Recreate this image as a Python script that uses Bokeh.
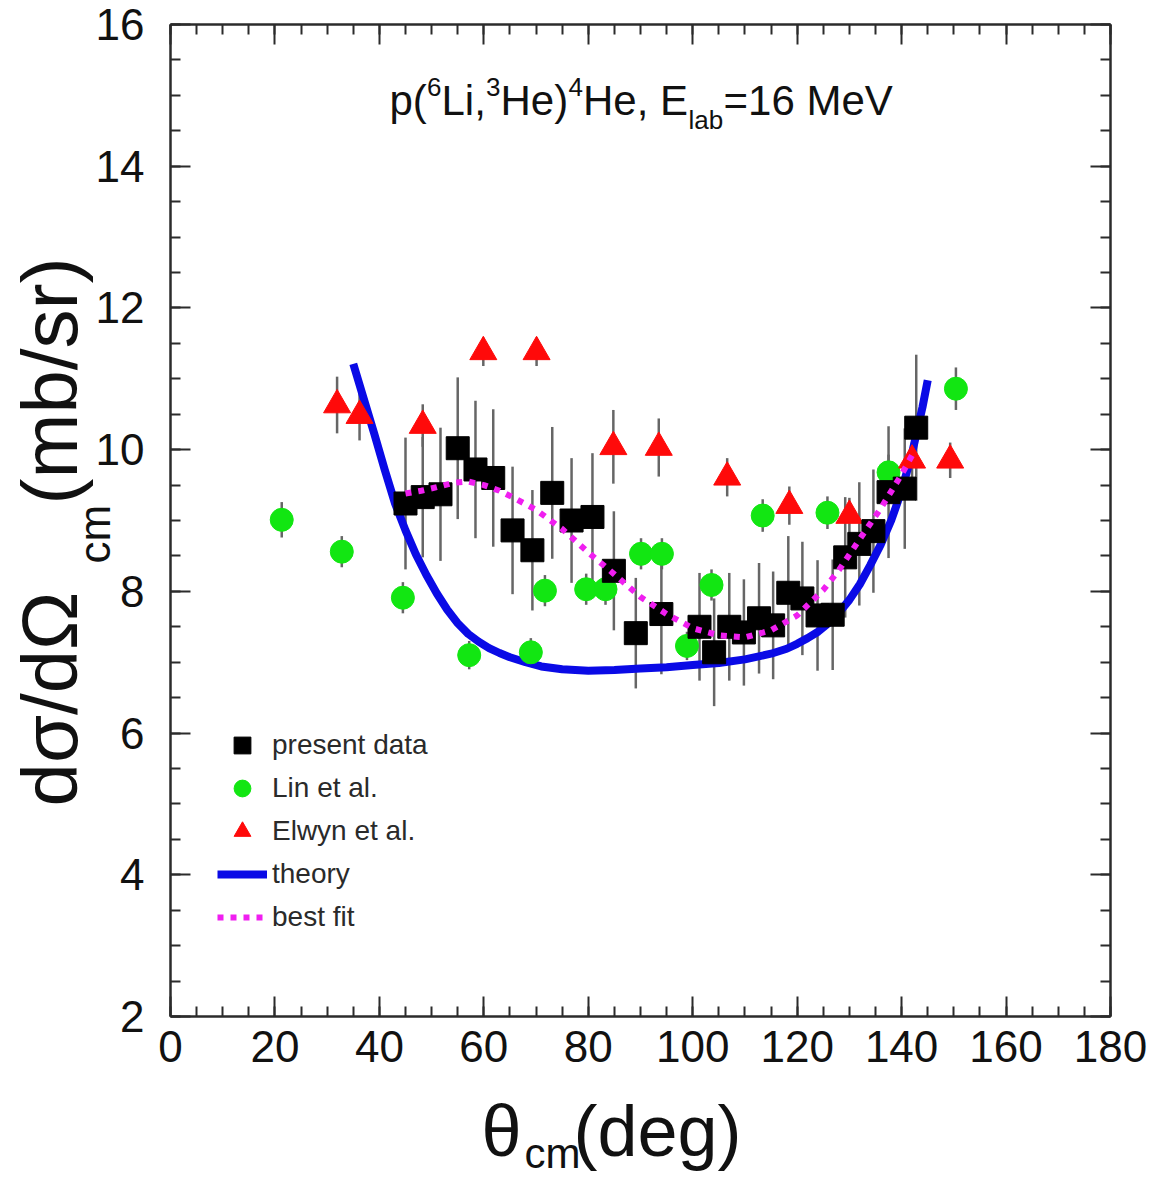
import numpy as np
from bokeh.plotting import figure
from bokeh.models import (Range1d, LinearAxis, SingleIntervalTicker, Label,
                          Legend, LegendItem, ColumnDataSource)
from bokeh.embed import file_html
from bokeh.resources import INLINE

# ---- measured cross sections: p(6Li,3He)4He at E_lab = 16 MeV ----
present_theta = [45.0, 48.3, 51.7, 55.0, 58.4, 61.8, 65.5, 69.3, 73.1, 76.8,
                 80.8, 84.9, 89.1, 94.0, 101.3, 104.1, 107.0, 109.8, 112.7, 115.4,
                 118.3, 121.0, 123.9, 126.8, 129.2, 131.9, 134.6, 137.5, 140.6, 142.8]
present_sigma = [9.24, 9.33, 9.37, 10.02, 9.72, 9.60, 8.86, 8.58, 9.39, 9.00,
                 9.05, 8.29, 7.41, 7.68, 7.50, 7.14, 7.50, 7.42, 7.62, 7.52,
                 7.98, 7.90, 7.66, 7.67, 8.48, 8.67, 8.85, 9.40, 9.45, 10.31]
present_err = [0.93, 0.85, 0.94, 1.00, 0.97, 0.97, 0.90, 0.85, 0.93, 0.88,
               0.90, 0.84, 0.78, 0.85, 0.76, 0.76, 0.76, 0.75, 0.78, 0.76,
               0.80, 0.80, 0.78, 0.78, 0.85, 0.87, 0.87, 0.93, 0.85, 1.03]

lin_theta = [21.3, 32.8, 44.5, 57.2, 69.0, 71.7, 79.6, 83.3, 90.1, 94.1,
             98.9, 103.6, 113.4, 125.8, 137.5, 150.4]
lin_sigma = [9.01, 8.56, 7.91, 7.10, 7.14, 8.01, 8.03, 8.03, 8.53, 8.53,
             7.23, 8.09, 9.07, 9.11, 9.68, 10.86]
lin_err = [0.25, 0.22, 0.22, 0.20, 0.20, 0.22, 0.22, 0.22, 0.22, 0.22,
           0.20, 0.22, 0.23, 0.23, 0.25, 0.30]

elwyn_theta = [31.9, 36.2, 48.3, 59.9, 70.1, 84.8, 93.5, 106.6, 118.5, 130.0, 142.0, 149.3]
elwyn_sigma = [10.63, 10.48, 10.34, 11.38, 11.38, 10.04, 10.03, 9.61, 9.21, 9.07, 9.85, 9.85]
elwyn_err = [0.40, 0.35, 0.30, 0.20, 0.20, 0.52, 0.41, 0.27, 0.27, 0.25, 0.25, 0.25]

# ---- curves ----
theory_theta = [35, 37, 39, 41, 43, 45, 47, 49, 51, 53, 55, 57, 59, 61, 63, 65, 68,
                71, 75, 80, 85, 90, 95, 100, 105, 110, 115, 118, 120, 122, 124,
                126, 128, 130, 132, 134, 136, 138, 140, 142, 144, 145]
theory_sigma = [11.21, 10.72, 10.23, 9.72, 9.24, 8.86, 8.52, 8.23, 7.97, 7.74, 7.55,
                7.40, 7.29, 7.20, 7.13, 7.07, 7.00, 6.94, 6.90, 6.88, 6.89, 6.91,
                6.93, 6.96, 6.99, 7.04, 7.12, 7.19, 7.26, 7.34, 7.43, 7.55, 7.70,
                7.88, 8.10, 8.37, 8.66, 9.00, 9.42, 9.95, 10.60, 10.98]

fit_theta = [45, 48, 51, 54, 57, 60, 63, 66, 70, 75, 80, 85, 90, 95, 100, 105,
             110, 115, 120, 125, 128, 132, 136, 140, 142]
fit_sigma = [9.38, 9.42, 9.47, 9.53, 9.55, 9.50, 9.42, 9.31, 9.15, 8.88, 8.55, 8.24,
             7.92, 7.68, 7.48, 7.38, 7.35, 7.45, 7.66, 8.02, 8.30, 8.74, 9.17, 9.65, 9.92]

X_BOUNDS = (0, 180)
Y_BOUNDS = (2, 16)

# canvas size and where the axis box sits on it (pixels)
W, H = 1157, 1182
BL, BR, BT, BB = 170, 1110, 24, 1016

FONT = "Liberation Sans"
TEXT = "#111111"
AXIS = "#2b2b2b"


def at(px, py):
    """Canvas pixel position -> data coordinates."""
    x = X_BOUNDS[0] + (px - BL) / (BR - BL) * (X_BOUNDS[1] - X_BOUNDS[0])
    y = Y_BOUNDS[1] - (py - BT) / (BB - BT) * (Y_BOUNDS[1] - Y_BOUNDS[0])
    return x, y


def err_source(theta, sigma, err):
    s = np.asarray(sigma, dtype=float)
    e = np.asarray(err, dtype=float)
    return ColumnDataSource(dict(x=list(theta), y=list(s), lo=list(s - e), hi=list(s + e)))


# the frame spans the whole canvas; axes are pinned to the data box so the
# axis titles can live in the same drawing area
x0, y1 = at(0, 0)
x1, y0 = at(W, H)
p = figure(width=W, height=H, x_range=Range1d(x0, x1), y_range=Range1d(y0, y1),
           output_backend="svg", toolbar_location=None,
           x_axis_type=None, y_axis_type=None,
           min_border=0, min_border_left=0, min_border_right=0,
           min_border_top=0, min_border_bottom=0)
p.title.visible = False
p.xgrid.visible = False
p.ygrid.visible = False
p.outline_line_color = None
p.background_fill_color = "white"
p.border_fill_color = "white"


def make_axis(interval, bounds, fixed, show_labels, standoff):
    ax = LinearAxis(ticker=SingleIntervalTicker(interval=interval, num_minor_ticks=4),
                    bounds=bounds, fixed_location=fixed)
    ax.axis_line_color = AXIS
    ax.axis_line_width = 2.5
    ax.major_tick_line_color = AXIS
    ax.major_tick_line_width = 2
    ax.minor_tick_line_color = AXIS
    ax.minor_tick_line_width = 2
    ax.major_tick_in = 20
    ax.major_tick_out = 0
    ax.minor_tick_in = 10
    ax.minor_tick_out = 0
    if show_labels:
        ax.major_label_text_font = FONT
        ax.major_label_text_font_size = "44px"
        ax.major_label_text_color = TEXT
        ax.major_label_standoff = standoff
    else:
        ax.major_label_text_color = None
    return ax


p.add_layout(make_axis(20, X_BOUNDS, Y_BOUNDS[0], True, 14), "below")
p.add_layout(make_axis(2, Y_BOUNDS, X_BOUNDS[0], True, 26), "left")
p.add_layout(make_axis(20, X_BOUNDS, Y_BOUNDS[1], False, 0), "above")
p.add_layout(make_axis(2, Y_BOUNDS, X_BOUNDS[1], False, 0), "right")

src_present = err_source(present_theta, present_sigma, present_err)
src_lin = err_source(lin_theta, lin_sigma, lin_err)
src_elwyn = err_source(elwyn_theta, elwyn_sigma, elwyn_err)

# error bars
for src in (src_lin, src_elwyn, src_present):
    p.segment(x0="x", y0="lo", x1="x", y1="hi", source=src,
              line_color="#666666", line_width=2.5)

r_theory = p.line(theory_theta, theory_sigma, line_color="#0a0ae6", line_width=8,
                  line_join="round")

r_lin = p.scatter("x", "y", source=src_lin, marker="circle", size=23,
                  fill_color="#12e612", line_color="#12e612")
r_elwyn = p.scatter("x", "y", source=src_elwyn, marker="triangle", size=27,
                    fill_color="#ff0a0a", line_color="#ff0a0a")
r_present = p.scatter("x", "y", source=src_present, marker="square", size=23,
                      fill_color="black", line_color="black")

r_fit = p.line(fit_theta, fit_sigma, line_color="#f01ef0", line_width=6,
               line_dash="6 7")

# legend: bottom-left corner given relative to the canvas bottom-left
legend = Legend(items=[
    LegendItem(label="present data", renderers=[r_present]),
    LegendItem(label="Lin et al.", renderers=[r_lin]),
    LegendItem(label="Elwyn et al.", renderers=[r_elwyn]),
    LegendItem(label="theory", renderers=[r_theory]),
    LegendItem(label="best fit", renderers=[r_fit]),
], location=(217, 244), glyph_width=50, glyph_height=42, spacing=1,
    padding=0, margin=0, label_standoff=5,
    label_text_font=FONT, label_text_font_size="28px", label_text_color="#2a2a2a",
    border_line_color=None, background_fill_alpha=0)
p.add_layout(legend)

# Label anchors sit about 0.36 em above the drawn baseline
BASE_SHIFT = 0.36


def put(text, px, py, size, angle=0.0):
    """Place text so that its baseline starts at canvas pixel (px, py)."""
    if angle == 0.0:
        py = py - BASE_SHIFT * size
    else:
        px = px - BASE_SHIFT * size
    x, y = at(px, py)
    p.add_layout(Label(x=x, y=y, text=text, angle=angle,
                       text_font=FONT, text_font_size=f"{size}px",
                       text_color=TEXT, text_align="left",
                       text_baseline="alphabetic"))


# reaction title with isotope superscripts and lab subscript
for txt, px, py, sz in [("p(", 389, 115, 42), ("6", 426.5, 96, 26),
                        ("Li,", 441, 115, 42), ("3", 485.5, 96, 26),
                        ("He)", 500, 115, 42), ("4", 568, 96, 26),
                        ("He,", 582.5, 115, 42), ("E", 659.6, 115, 42),
                        ("lab", 688, 129, 26), ("=16 MeV", 723, 115, 42)]:
    put(txt, px, py, sz)

# x axis title
put("\u03b8", 481, 1156, 72)
put("cm", 524, 1168, 42)
put("(deg)", 573, 1156, 72)

# y axis title (rotated, reading upward)
ang = np.pi / 2
put("d\u03c3/d\u03a9", 78, 806, 78, ang)
put("cm", 110, 563, 44, ang)
put("(mb/sr)", 78, 504, 78, ang)

open("out.html", "w").write(file_html(p, INLINE))
